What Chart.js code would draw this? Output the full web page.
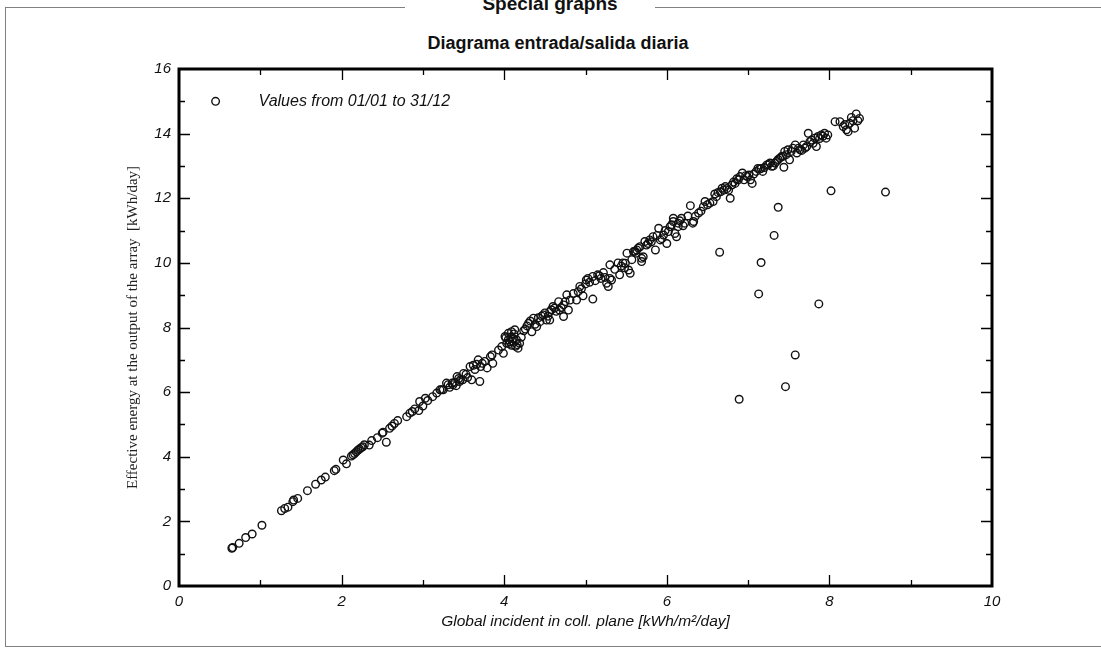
<!DOCTYPE html>
<html>
<head>
<meta charset="utf-8">
<script src="https://cdn.jsdelivr.net/npm/chart.js@4.4.0/dist/chart.umd.min.js"></script>
<style>
  html, body { margin: 0; padding: 0; background: #fff; }
  body { width: 1101px; height: 649px; position: relative; overflow: hidden; }
  #frame { position: absolute; left: 5px; top: 7px; width: 1100px; height: 640px;
           border: 1px solid #808080; box-sizing: border-box; }
  #section { position: absolute; left: 405px; width: 250px; top: -7px; text-align: center;
             box-sizing: border-box; padding-left: 40px;
             background: #fff; font: bold 19px "Liberation Sans", Arial, sans-serif; color: #111;
             line-height: 22px; }
  #title { position: absolute; left: 358px; width: 400px; top: 33px; text-align: center;
           font: bold 18px "Liberation Sans", Arial, sans-serif; color: #111; line-height: 20px; }
  #c { position: absolute; left: 0; top: 0; }
</style>
</head>
<body>
<div id="frame"></div>
<div id="section">Special graphs</div>
<div id="title"></div>
<canvas id="c" width="1101" height="649"></canvas>
<script>
// ---- data ----
const chartTitle = "Diagrama entrada/salida diaria";
const seriesLabel = "Values from 01/01 to 31/12";
const xTitle = "Global incident in coll. plane [kWh/m\u00b2/day]";
const yTitle = "Effective energy at the output of the array  [kWh/day]";

// Global incident in collector plane [kWh/m²/day]
const globalIncident = [
  0.65,0.66,0.74,0.82,0.90,1.02,1.26,1.30,1.34,1.40,1.41,1.46,1.58,1.68,1.75,1.80,1.91,1.93,2.02,2.06,
  2.12,2.14,2.16,2.18,2.20,2.22,2.24,2.26,2.28,2.34,2.37,2.44,2.50,2.51,2.55,2.59,2.62,2.65,2.69,2.80,
  2.84,2.87,2.90,2.95,2.96,3.00,3.03,3.06,3.12,3.17,3.21,3.23,3.25,3.29,3.31,3.36,3.37,3.41,3.42,3.45,
  3.46,3.49,3.50,3.58,3.60,3.62,3.68,3.70,3.71,3.73,3.83,3.85,3.86,3.97,3.99,4.01,4.03,4.05,4.05,4.07,
  4.09,4.09,4.11,4.13,4.14,4.15,4.17,4.19,4.26,4.30,4.34,4.36,4.40,4.44,4.48,4.52,4.56,4.56,4.62,4.67,
  4.68,4.73,4.73,4.75,4.77,4.79,4.81,4.89,4.91,4.93,4.97,5.01,5.03,5.09,5.09,5.15,5.19,5.22,5.26,5.28,
  5.30,5.32,5.30,5.40,5.42,5.46,5.49,5.51,5.53,5.55,5.57,5.59,5.61,5.63,5.65,5.67,5.69,5.71,5.69,5.73,
  5.75,5.79,5.83,5.86,5.90,5.92,5.96,6.00,6.02,6.04,6.06,6.08,6.08,6.10,6.12,6.14,6.14,6.18,6.22,6.29,
  6.32,6.33,6.35,6.39,6.45,6.47,6.57,6.59,6.63,6.68,6.72,6.76,6.78,6.80,6.84,6.88,6.90,6.93,6.95,6.99,
  7.03,7.05,7.10,7.12,7.16,7.18,7.23,7.27,7.29,7.33,7.35,7.39,7.41,7.44,7.45,7.47,7.49,7.51,7.55,7.58,
  7.60,7.64,7.68,7.70,7.72,7.74,7.78,7.82,7.84,7.86,7.90,7.94,7.96,7.98,8.07,8.13,8.17,8.21,8.23,8.25,
  8.27,8.31,8.33,8.35,8.37,
  3.33,3.39,3.44,3.53,3.55,3.64,3.66,3.76,3.79,3.93,4.02,4.06,4.08,4.10,4.12,4.16,4.21,4.24,4.28,4.32,
  4.38,4.42,4.46,4.50,4.54,4.58,4.60,4.64,4.70,4.85,4.95,5.00,5.05,5.12,5.17,5.24,5.36,5.44,5.48,5.62,
  5.77,5.81,5.88,5.94,5.98,6.16,6.20,6.26,6.42,6.50,6.53,6.61,6.66,6.70,6.74,6.82,6.86,6.97,7.01,7.07,
  7.14,7.20,7.25,7.31,7.37,7.43,7.53,7.62,7.66,7.76,7.80,7.88,7.92,8.19,8.29,
  6.65,6.89,7.13,7.16,7.32,7.37,7.46,7.58,7.87,8.02,8.69
];
// Effective energy at the output of the array [kWh/day]
const effectiveEnergy = [
  1.17,1.19,1.32,1.50,1.61,1.88,2.33,2.40,2.44,2.61,2.66,2.71,2.95,3.15,3.28,3.37,3.57,3.61,3.90,3.78,
  4.02,4.06,4.10,4.15,4.20,4.24,4.28,4.31,4.37,4.36,4.50,4.59,4.73,4.76,4.45,4.88,4.95,5.03,5.12,5.24,
  5.35,5.40,5.48,5.43,5.71,5.57,5.81,5.74,5.86,5.97,6.07,6.07,6.07,6.28,6.23,6.28,6.23,6.20,6.48,6.33,
  6.38,6.38,6.58,6.79,6.38,6.83,7.00,6.33,6.79,6.89,7.10,7.15,6.89,7.41,7.20,7.72,7.51,7.82,7.62,7.56,
  7.87,7.45,7.66,7.93,7.42,7.62,7.36,7.51,7.95,8.13,7.87,8.29,8.03,8.18,8.39,8.23,8.49,8.23,8.60,8.80,
  8.54,8.34,8.70,8.80,9.01,8.54,8.85,8.85,9.11,9.27,8.98,9.47,9.52,8.88,9.58,9.63,9.52,9.70,9.37,9.27,
  9.52,9.47,9.94,10.00,9.63,10.00,9.99,10.30,9.78,9.68,10.10,10.35,10.36,10.40,10.46,10.50,10.14,10.19,10.04,10.66,
  10.55,10.71,10.81,10.40,11.07,10.71,10.86,10.60,10.97,11.12,11.18,11.28,11.38,10.91,10.81,11.12,11.23,11.38,11.23,11.77,
  11.23,11.28,11.44,11.54,11.74,11.90,11.90,12.13,12.18,12.31,12.36,12.25,12.00,12.41,12.46,12.57,12.67,12.78,12.57,12.67,
  12.57,12.46,12.83,12.92,12.92,12.83,13.03,13.09,12.99,13.09,13.14,13.24,13.29,12.96,13.45,13.35,13.50,13.19,13.55,13.65,
  13.40,13.50,13.65,13.55,13.60,14.01,13.80,13.86,13.60,13.91,13.96,14.01,13.86,13.96,14.37,14.37,14.22,14.12,14.06,14.32,
  14.50,14.17,14.61,14.40,14.47,
  6.15,6.30,6.42,6.55,6.45,6.70,6.86,6.95,6.75,7.30,7.68,7.50,7.70,7.58,7.80,7.47,7.70,7.90,8.05,8.20,
  8.10,8.30,8.35,8.45,8.35,8.55,8.65,8.50,8.62,9.05,9.20,9.35,9.40,9.45,9.60,9.55,9.80,9.90,9.85,10.30,
  10.60,10.65,10.85,10.75,11.00,11.30,11.15,11.45,11.60,11.80,11.85,12.05,12.20,12.25,12.30,12.50,12.60,12.70,12.72,12.75,
  12.90,12.95,13.05,13.00,13.20,13.30,13.45,13.55,13.48,13.75,13.70,13.85,13.92,14.28,14.40,
  10.33,5.78,9.04,10.01,10.85,11.72,6.17,7.15,8.73,12.23,12.19
];
const xTickValues = [0, 2, 4, 6, 8, 10];
const yTickValues = [0, 2, 4, 6, 8, 10, 12, 14, 16];

document.getElementById('title').textContent = chartTitle;

const points = globalIncident.map((x, i) => ({ x: x, y: effectiveEnergy[i] }));

const SANS = '"Liberation Sans", Arial, sans-serif';
const SERIF = '"Liberation Serif", "Times New Roman", serif';

// inward ticks, frame and legend drawn through the library's scales
const framePlugin = {
  id: 'framePlugin',
  afterDatasetsDraw(chart) {
    const { ctx, chartArea: a, scales: { x, y } } = chart;
    ctx.save();
    ctx.strokeStyle = '#000';
    ctx.lineWidth = 1.3;
    ctx.beginPath();
    for (let v = 1; v < 10; v++) {
      const px = Math.round(x.getPixelForValue(v)) + 0.5;
      const len = v % 2 === 0 ? 11 : 6;
      ctx.moveTo(px, a.bottom); ctx.lineTo(px, a.bottom - len);
      ctx.moveTo(px, a.top); ctx.lineTo(px, a.top + len);
    }
    for (let v = 1; v < 16; v++) {
      const py = Math.round(y.getPixelForValue(v)) + 0.5;
      const len = v % 2 === 0 ? 11 : 6;
      ctx.moveTo(a.left, py); ctx.lineTo(a.left + len, py);
      ctx.moveTo(a.right, py); ctx.lineTo(a.right - len, py);
    }
    ctx.stroke();
    ctx.lineWidth = 3;
    ctx.strokeRect(a.left, a.top, a.right - a.left, a.bottom - a.top);

    // legend
    const ds = chart.data.datasets[0];
    const lx = x.getPixelForValue(0.45), ly = y.getPixelForValue(15.0);
    ctx.lineWidth = ds.borderWidth;
    ctx.strokeStyle = ds.borderColor;
    ctx.beginPath(); ctx.arc(lx, ly, ds.pointRadius, 0, Math.PI * 2); ctx.stroke();
    ctx.fillStyle = '#111';
    ctx.font = 'italic 16px ' + SANS;
    ctx.textBaseline = 'middle';
    ctx.textAlign = 'left';
    ctx.fillText(ds.label, lx + 43, ly);
    ctx.restore();
  }
};

new Chart(document.getElementById('c'), {
  type: 'scatter',
  data: {
    datasets: [{
      label: seriesLabel,
      data: points,
      pointStyle: 'circle',
      pointRadius: 3.8,
      pointHoverRadius: 3.8,
      borderWidth: 1.4,
      borderColor: '#111',
      backgroundColor: 'rgba(255,255,255,0)'
    }]
  },
  options: {
    responsive: false,
    animation: false,
    devicePixelRatio: 1,
    layout: { padding: { left: 0, right: 109, top: 69, bottom: 0 } },
    plugins: {
      legend: { display: false },
      tooltip: { enabled: false },
      title: { display: false }
    },
    scales: {
      x: {
        type: 'linear', min: 0, max: 10,
        afterBuildTicks(s) { s.ticks = xTickValues.map(v => ({ value: v })); },
        afterFit(s) { s.height = 63; },
        ticks: { color: '#111', padding: 7, font: { family: SANS, size: 15, style: 'italic' } },
        grid: { display: false, drawTicks: false },
        border: { display: false },
        title: { display: true, text: xTitle, color: '#111',
                 font: { family: SANS, size: 15.5, style: 'italic' }, padding: { top: 0, bottom: 18 } }
      },
      y: {
        type: 'linear', min: 0, max: 16,
        afterBuildTicks(s) { s.ticks = yTickValues.map(v => ({ value: v })); },
        afterFit(s) { s.width = 179; },
        ticks: { color: '#111', padding: 8, font: { family: SANS, size: 15, style: 'italic' } },
        grid: { display: false, drawTicks: false },
        border: { display: false },
        title: { display: true, text: yTitle, color: '#222',
                 font: { family: SERIF, size: 15 }, padding: { top: 124, bottom: 0 } }
      }
    }
  },
  plugins: [framePlugin]
});
</script>
</body>
</html>
